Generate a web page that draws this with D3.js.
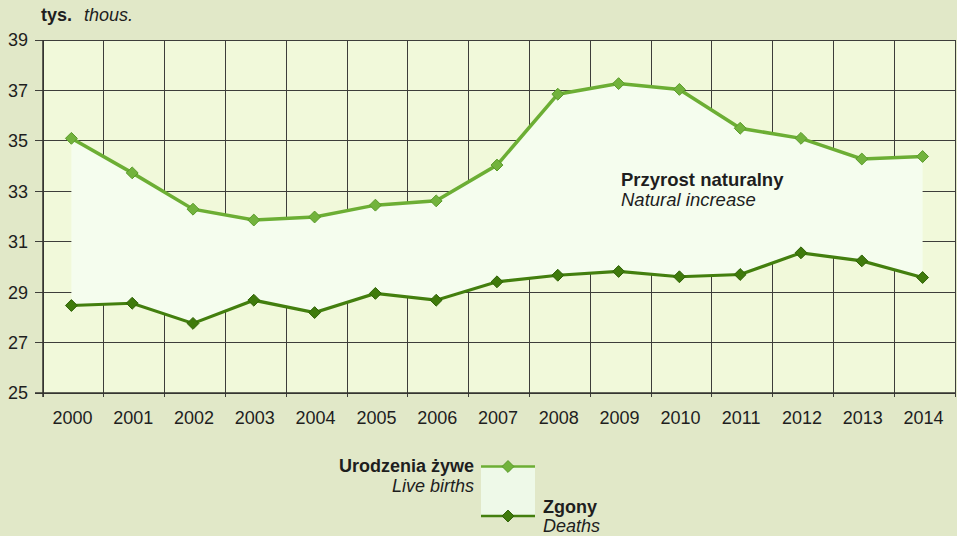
<!DOCTYPE html>
<html>
<head>
<meta charset="utf-8">
<script src="https://cdn.jsdelivr.net/npm/d3@7"></script>
<style>
  html, body { margin: 0; padding: 0; background: #e1e8c8; }
  svg { display: block; font-family: "Liberation Sans", Arial, sans-serif; }
</style>
</head>
<body>
<script>
var years = ["2000","2001","2002","2003","2004","2005","2006","2007","2008","2009","2010","2011","2012","2013","2014"];
var births = [35.10, 33.73, 32.29, 31.86, 31.98, 32.45, 32.62, 34.04, 36.85, 37.27, 37.04, 35.50, 35.10, 34.28, 34.38];
var deaths = [28.47, 28.56, 27.76, 28.68, 28.19, 28.95, 28.68, 29.41, 29.67, 29.82, 29.61, 29.70, 30.56, 30.24, 29.58];
var yTicks = [25, 27, 29, 31, 33, 35, 37, 39];

var width = 957, height = 536;
var margin = {top: 40, right: 2, bottom: 143, left: 43};

var svg = d3.select("body").append("svg")
    .attr("width", width)
    .attr("height", height);

svg.append("rect").attr("width", width).attr("height", height).attr("fill", "#e1e8c8");

var x = d3.scaleBand()
    .domain(years)
    .range([margin.left, width - margin.right])
    .padding(0);

var y = d3.scaleLinear()
    .domain([25, 39])
    .range([height - margin.bottom, margin.top]);

var cx = function(i) { return x(years[i]) + x.bandwidth() / 2 - 2; };

// plot background
svg.append("rect")
    .attr("x", margin.left)
    .attr("y", margin.top)
    .attr("width", width - margin.right - margin.left)
    .attr("height", y(25) - y(39))
    .attr("fill", "#f1f9da");

// grid
var grid = svg.append("g").attr("stroke", "#3e3e3a").attr("stroke-width", 1).attr("shape-rendering", "crispEdges");
grid.selectAll(".hg")
    .data(yTicks)
    .enter().append("line")
    .attr("x1", margin.left - 8)
    .attr("x2", width - margin.right)
    .attr("y1", function(d) { return y(d); })
    .attr("y2", function(d) { return y(d); });

var bounds = years.map(function(d) { return x(d); }).concat([x(years[years.length - 1]) + x.bandwidth()]);
grid.selectAll(".vg")
    .data(bounds)
    .enter().append("line")
    .attr("x1", function(d) { return d; })
    .attr("x2", function(d) { return d; })
    .attr("y1", margin.top)
    .attr("y2", y(25) + 4);

// natural increase area
var area = d3.area()
    .x(function(d, i) { return cx(i); })
    .y0(function(d, i) { return y(deaths[i]); })
    .y1(function(d, i) { return y(births[i]); });

svg.append("path")
    .datum(years)
    .attr("d", area)
    .attr("fill", "#f5fdee");

// axes lines over the area
svg.append("line")
    .attr("x1", margin.left).attr("x2", margin.left)
    .attr("y1", margin.top).attr("y2", y(25) + 4)
    .attr("stroke", "#33332f").attr("stroke-width", 1.5);
svg.append("line")
    .attr("x1", margin.left - 8).attr("x2", width - margin.right)
    .attr("y1", y(25)).attr("y2", y(25))
    .attr("stroke", "#33332f").attr("stroke-width", 1.5);

// y labels
svg.append("g").selectAll("text")
    .data(yTicks)
    .enter().append("text")
    .attr("x", 28)
    .attr("y", function(d) { return y(d); })
    .attr("dy", "0.36em")
    .attr("text-anchor", "end")
    .attr("font-size", 18)
    .attr("fill", "#1e1e1e")
    .text(function(d) { return d; });

// x labels
svg.append("g").selectAll("text")
    .data(years)
    .enter().append("text")
    .attr("x", function(d, i) { return cx(i) + 1; })
    .attr("y", 424)
    .attr("text-anchor", "middle")
    .attr("font-size", 18)
    .attr("fill", "#1e1e1e")
    .text(function(d) { return d; });

// lines
var line = function(vals) {
    return d3.line()
        .x(function(d, i) { return cx(i); })
        .y(function(d) { return y(d); })(vals);
};

var diamond = d3.symbol().type(d3.symbolDiamond2).size(90);

svg.append("path")
    .attr("d", line(deaths))
    .attr("fill", "none")
    .attr("stroke", "#437f0e")
    .attr("stroke-width", 3.2);
svg.append("g").selectAll("path")
    .data(deaths)
    .enter().append("path")
    .attr("d", diamond)
    .attr("transform", function(d, i) { return "translate(" + cx(i) + "," + y(d) + ")"; })
    .attr("fill", "#3f7a0b")
    .attr("stroke", "#2f6206")
    .attr("stroke-width", 1);

svg.append("path")
    .attr("d", line(births))
    .attr("fill", "none")
    .attr("stroke", "#6cae34")
    .attr("stroke-width", 3.5);
svg.append("g").selectAll("path")
    .data(births)
    .enter().append("path")
    .attr("d", diamond)
    .attr("transform", function(d, i) { return "translate(" + cx(i) + "," + y(d) + ")"; })
    .attr("fill", "#72b33c")
    .attr("stroke", "#5a9a2a")
    .attr("stroke-width", 1);

// unit label
var unit = svg.append("text").attr("x", 41).attr("y", 21).attr("font-size", 18).attr("fill", "#1e1e1e");
unit.append("tspan").attr("font-weight", "bold").text("tys.");
unit.append("tspan").attr("x", 84).attr("font-style", "italic").text("thous.");

// area label
svg.append("text").attr("x", 621).attr("y", 186).attr("font-size", 18.5).attr("font-weight", "bold").attr("fill", "#1e1e1e").text("Przyrost naturalny");
svg.append("text").attr("x", 621).attr("y", 205.5).attr("font-size", 18.5).attr("font-style", "italic").attr("fill", "#1e1e1e").text("Natural increase");

// legend
var lg = svg.append("g");
lg.append("rect").attr("x", 481).attr("y", 466.5).attr("width", 54).attr("height", 50).attr("fill", "#eef9e8");
lg.append("line").attr("x1", 481).attr("x2", 535).attr("y1", 466.5).attr("y2", 466.5).attr("stroke", "#6cae34").attr("stroke-width", 2.5);
lg.append("line").attr("x1", 481).attr("x2", 535).attr("y1", 516).attr("y2", 516).attr("stroke", "#437f0e").attr("stroke-width", 2.5);
lg.append("path").attr("d", diamond).attr("transform", "translate(508,466.5)").attr("fill", "#72b33c").attr("stroke", "#5a9a2a");
lg.append("path").attr("d", diamond).attr("transform", "translate(508,516)").attr("fill", "#3f7a0b").attr("stroke", "#2f6206");
lg.append("text").attr("x", 474).attr("y", 472).attr("text-anchor", "end").attr("font-size", 18).attr("font-weight", "bold").attr("fill", "#1e1e1e").text("Urodzenia żywe");
lg.append("text").attr("x", 474).attr("y", 492).attr("text-anchor", "end").attr("font-size", 18).attr("font-style", "italic").attr("fill", "#1e1e1e").text("Live births");
lg.append("text").attr("x", 543).attr("y", 512.5).attr("font-size", 18).attr("font-weight", "bold").attr("fill", "#1e1e1e").text("Zgony");
lg.append("text").attr("x", 543).attr("y", 531.5).attr("font-size", 18).attr("font-style", "italic").attr("fill", "#1e1e1e").text("Deaths");
</script>
</body>
</html>
